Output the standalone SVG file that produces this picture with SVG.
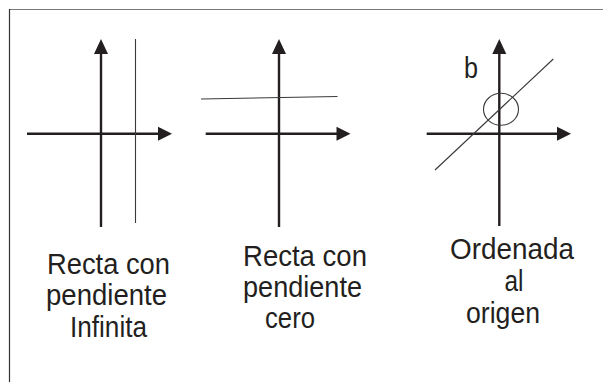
<svg xmlns="http://www.w3.org/2000/svg" width="603" height="382" viewBox="0 0 603 382">
<style>
.axis{stroke:#231f20;stroke-width:2.4;fill:none}
.thin{stroke:#3a3a3a;stroke-width:1.1;fill:none}
.head{fill:#231f20}
.lbl{font-family:"Liberation Sans",Arial,sans-serif;font-size:29px;fill:#231f20}
</style>
<rect width="603" height="382" fill="#fff"/>
<g id="frame">
<line x1="9" y1="9.5" x2="603" y2="9.5" stroke="#777" stroke-width="1.2"/>
<line x1="9.5" y1="9" x2="9.5" y2="382" stroke="#333" stroke-width="1.2"/>
</g>
<g id="connectors">
<g id="diagram1">
<line class="axis" x1="101" y1="52" x2="101" y2="227"/>
<polygon class="head" points="101,39 94,54 108,54"/>
<line class="axis" x1="27" y1="133.7" x2="160" y2="133.7"/>
<polygon class="head" points="172,133.7 158,126.7 158,140.7"/>
<line class="thin" x1="135.5" y1="39" x2="135.5" y2="223" stroke="#555"/>
</g>
<g id="diagram2">
<line class="axis" x1="279" y1="52" x2="279" y2="227"/>
<polygon class="head" points="279,39 272,54 286,54"/>
<line class="axis" x1="205.7" y1="133.7" x2="338" y2="133.7"/>
<polygon class="head" points="350.5,133.7 336.5,126.7 336.5,140.7"/>
<line class="thin" x1="201" y1="99" x2="337.5" y2="96.5"/>
</g>
<g id="diagram3">
<line class="axis" x1="499.3" y1="52" x2="499.3" y2="226"/>
<polygon class="head" points="499.3,39 492.3,54 506.3,54"/>
<line class="axis" x1="426.7" y1="133.7" x2="559" y2="133.7"/>
<polygon class="head" points="571,133.7 557,126.7 557,140.7"/>
<line class="thin" x1="435" y1="170" x2="553.3" y2="59"/>
<ellipse class="thin" cx="501" cy="109.3" rx="17.5" ry="16"/>
</g>
</g>
<g id="label-b"><text class="lbl" x="464" y="78" textLength="14" lengthAdjust="spacingAndGlyphs">b</text></g>
<g id="label1">
<text class="lbl" x="47" y="274.3" textLength="123" lengthAdjust="spacingAndGlyphs">Recta con</text>
<text class="lbl" x="46" y="305.3" textLength="121" lengthAdjust="spacingAndGlyphs">pendiente</text>
<text class="lbl" x="70" y="336.5" textLength="77" lengthAdjust="spacingAndGlyphs">Infinita</text>
</g>
<g id="label2">
<text class="lbl" x="243" y="265.7" textLength="124" lengthAdjust="spacingAndGlyphs">Recta con</text>
<text class="lbl" x="243" y="296.7" textLength="119" lengthAdjust="spacingAndGlyphs">pendiente</text>
<text class="lbl" x="265" y="328" textLength="50" lengthAdjust="spacingAndGlyphs">cero</text>
</g>
<g id="label3">
<text class="lbl" x="450" y="259.3" textLength="124" lengthAdjust="spacingAndGlyphs">Ordenada</text>
<text class="lbl" x="504.5" y="291" textLength="19" lengthAdjust="spacingAndGlyphs">al</text>
<text class="lbl" x="466" y="322.5" textLength="74" lengthAdjust="spacingAndGlyphs">origen</text>
</g>
</svg>
